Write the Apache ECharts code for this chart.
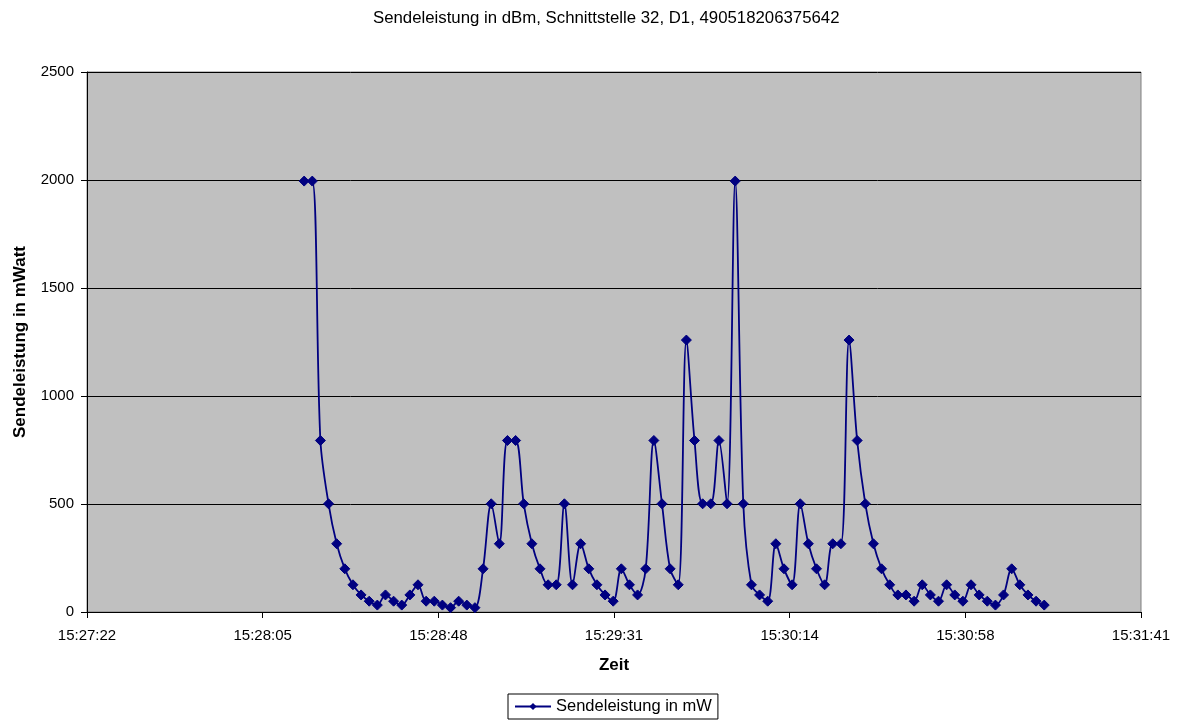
<!DOCTYPE html>
<html><head><meta charset="utf-8">
<script src="https://cdn.jsdelivr.net/npm/echarts@6/dist/echarts.min.js"></script>
<style>html,body{margin:0;padding:0;background:#fff}#c{width:1180px;height:722px}</style>
</head><body><div id="c"></div>
<script>
// Sample times (HH:MM:SS)
const times = [
 '15:28:15','15:28:17','15:28:19','15:28:21','15:28:23','15:28:25','15:28:27','15:28:29','15:28:31','15:28:33',
 '15:28:35','15:28:37','15:28:39','15:28:41','15:28:43','15:28:45','15:28:47','15:28:49','15:28:51','15:28:53',
 '15:28:55','15:28:57','15:28:59','15:29:01','15:29:03','15:29:05','15:29:07','15:29:09','15:29:11','15:29:13',
 '15:29:15','15:29:17','15:29:19','15:29:21','15:29:23','15:29:25','15:29:27','15:29:29','15:29:31','15:29:33',
 '15:29:35','15:29:37','15:29:39','15:29:41','15:29:43','15:29:45','15:29:47','15:29:49','15:29:51','15:29:53',
 '15:29:55','15:29:57','15:29:59','15:30:01','15:30:03','15:30:05','15:30:07','15:30:09','15:30:11','15:30:13',
 '15:30:15','15:30:17','15:30:19','15:30:21','15:30:23','15:30:25','15:30:27','15:30:29','15:30:31','15:30:33',
 '15:30:35','15:30:37','15:30:39','15:30:41','15:30:43','15:30:45','15:30:47','15:30:49','15:30:51','15:30:53',
 '15:30:55','15:30:57','15:30:59','15:31:01','15:31:03','15:31:05','15:31:07','15:31:09','15:31:11','15:31:13',
 '15:31:15','15:31:17'
];
// Transmit power in mW
const powerMw = [
 1995,1995,794,501,316,200,126,79,50,32,
 79,50,32,79,126,50,50,32,20,50,
 32,20,200,501,316,794,794,501,316,200,
 126,126,501,126,316,200,126,79,50,200,
 126,79,200,794,501,200,126,1259,794,501,
 501,794,501,1995,501,126,79,50,316,200,
 126,501,316,200,126,316,316,1259,794,501,
 316,200,126,79,79,50,126,79,50,126,
 79,50,126,79,50,32,79,200,126,79,
 50,32
];
// X axis bounds and step, in tenths of a second of the day (15:27:21.6 .. 15:31:40.8, step 43.2 s)
const xAxisMinDs = 556416;
const xAxisMaxDs = 559008;
const xAxisStepDs = 432;
const yAxisMin = 0, yAxisMax = 2500, yAxisStep = 500;

function toDs(t){const p=t.split(':').map(Number);return (p[0]*3600+p[1]*60+p[2])*10;}
function fmt(ds){let s=Math.round(ds/10);const h=Math.floor(s/3600);s-=h*3600;const m=Math.floor(s/60);s-=m*60;
  const pad=n=>String(n).padStart(2,'0');return h+':'+pad(m)+':'+pad(s);}

const chart = echarts.init(document.getElementById('c'), null, {renderer:'canvas'});
const FONT = 'Liberation Sans, Arial, sans-serif';
chart.setOption({
  animation:false,
  backgroundColor:'#fff',
  textStyle:{fontFamily:FONT},
  title:{text:'Sendeleistung in dBm, Schnittstelle 32, D1, 490518206375642',
    left:368, top:5, textStyle:{fontFamily:FONT,fontSize:16.8,fontWeight:'normal',color:'#000'}},
  grid:{left:87,right:39,top:72,bottom:110,outerBoundsMode:'none',containLabel:false,
    show:true,backgroundColor:'#C0C0C0',borderColor:'#808080',borderWidth:1},
  legend:{left:508,top:694,padding:[4,6],itemWidth:36,itemHeight:9,borderColor:'#000',borderWidth:1,
    backgroundColor:'#fff',textStyle:{fontFamily:FONT,fontSize:16.5,color:'#000'}},
  xAxis:{type:'value',min:xAxisMinDs,max:xAxisMaxDs,interval:xAxisStepDs,
    name:'Zeit',nameLocation:'middle',nameGap:45,
    nameTextStyle:{fontFamily:FONT,fontSize:17,fontWeight:'bold',color:'#000'},
    axisLine:{show:true,lineStyle:{color:'#000',width:1}},
    axisTick:{show:true,length:6,lineStyle:{color:'#000'}},
    axisLabel:{margin:16,fontFamily:FONT,fontSize:15,color:'#000',formatter:v=>fmt(v)},
    splitLine:{show:false}},
  yAxis:{type:'value',min:yAxisMin,max:yAxisMax,interval:yAxisStep,
    name:'Sendeleistung in mWatt',nameLocation:'middle',nameGap:58,
    nameTextStyle:{fontFamily:FONT,fontSize:17,fontWeight:'bold',color:'#000'},
    axisLine:{show:true,lineStyle:{color:'#000',width:1}},
    axisTick:{show:true,length:6,lineStyle:{color:'#000'}},
    axisLabel:{margin:13,fontFamily:FONT,fontSize:15,color:'#000',formatter:v=>String(v)},
    splitLine:{show:true,lineStyle:{color:'#000',width:1}}},
  series:[{
    name:'Sendeleistung in mW',type:'line',smooth:0.33,
    data:times.map((t,i)=>[toDs(t),powerMw[i]]),
    symbol:'diamond',symbolSize:[10,10],showSymbol:true,
    lineStyle:{color:'#000080',width:1.8},
    itemStyle:{color:'#000080',borderColor:'#000080'}
  }]
});
</script>
</body></html>
